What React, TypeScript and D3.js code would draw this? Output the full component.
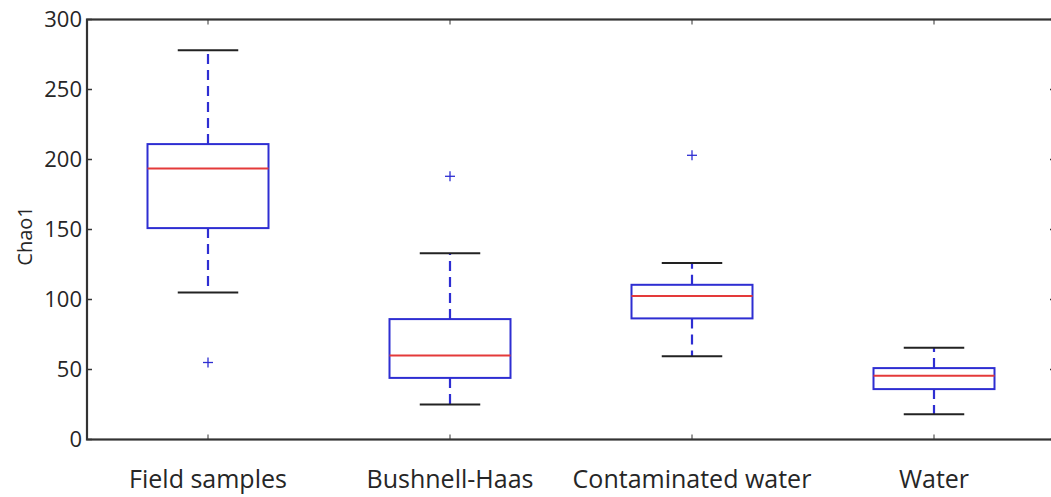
import React from "react";
import * as d3 from "d3";

const categories = ["Field samples", "Bushnell-Haas", "Contaminated water", "Water"];
const whiskerLow = [105, 25, 59.5, 18];
const q1 = [151, 44, 86.5, 36];
const medians = [193.5, 60, 102.5, 45.5];
const q3 = [211, 86, 110.5, 51];
const whiskerHigh = [278, 133, 126, 65.5];
const outliers: number[][] = [[55], [188], [203], []];
const yTicks = [0, 50, 100, 150, 200, 250, 300];

const W = 1051;
const H = 497;
const left = 87;
const right = 1055;
const top = 19.5;
const bottom = 439.5;

export default function App() {
  const x = d3.scaleBand<string>().domain(categories).range([left, right]).padding(0);
  const y = d3.scaleLinear().domain([0, 300]).range([bottom, top]);
  const bw = x.bandwidth();
  const boxW = bw * 0.5;
  const capW = bw * 0.25;
  const blue = "#2e2ed2";
  const red = "#e43a3a";
  const font = "'Open Sans', sans-serif";
  const textCol = "#262626";

  return (
    <svg width={W} height={H} style={{ position: "absolute", left: 0, top: 0, background: "#fff" }}>
      <rect x={0} y={0} width={W} height={H} fill="#fff" />
      {categories.map((c, i) => {
        const cx = (x(c) as number) + bw / 2;
        return (
          <g key={c}>
            <line x1={cx} x2={cx} y1={y(q3[i])} y2={y(whiskerHigh[i])} stroke={blue} strokeWidth={2.2} strokeDasharray="10,6" />
            <line x1={cx} x2={cx} y1={y(q1[i])} y2={y(whiskerLow[i])} stroke={blue} strokeWidth={2.2} strokeDasharray="10,6" />
            <line x1={cx - capW / 2} x2={cx + capW / 2} y1={y(whiskerHigh[i])} y2={y(whiskerHigh[i])} stroke="#222" strokeWidth={2} />
            <line x1={cx - capW / 2} x2={cx + capW / 2} y1={y(whiskerLow[i])} y2={y(whiskerLow[i])} stroke="#222" strokeWidth={2} />
            <rect x={cx - boxW / 2} y={y(q3[i])} width={boxW} height={y(q1[i]) - y(q3[i])} fill="none" stroke={blue} strokeWidth={2} />
            <line x1={cx - boxW / 2} x2={cx + boxW / 2} y1={y(medians[i])} y2={y(medians[i])} stroke={red} strokeWidth={2} />
            {outliers[i].map((o, j) => (
              <g key={j}>
                <line x1={cx - 5} x2={cx + 5} y1={y(o)} y2={y(o)} stroke={blue} strokeWidth={1.3} />
                <line x1={cx} x2={cx} y1={y(o) - 5} y2={y(o) + 5} stroke={blue} strokeWidth={1.3} />
              </g>
            ))}
            <line x1={cx} x2={cx} y1={bottom} y2={bottom - 5} stroke="#333" strokeWidth={1} />
            <line x1={cx} x2={cx} y1={top} y2={top + 5} stroke="#333" strokeWidth={1} />
            <text x={cx} y={488} textAnchor="middle" fontFamily={font} fontSize={25} fontWeight={500} fill={textCol}>{c}</text>
          </g>
        );
      })}
      {yTicks.map((t) => (
        <g key={t}>
          <line x1={left} x2={left + 5} y1={y(t)} y2={y(t)} stroke="#333" strokeWidth={1.5} />
          <line x1={right} x2={right - 5} y1={y(t)} y2={y(t)} stroke="#333" strokeWidth={1.5} />
          <text x={82} y={y(t)} dy="0.36em" textAnchor="end" fontFamily={font} fontSize={22} fontWeight={500} fill={textCol}>{t}</text>
        </g>
      ))}
      <rect x={left} y={top} width={right - left} height={bottom - top} fill="none" stroke="#333" strokeWidth={2.2} />
      <text transform={`translate(32,236) rotate(-90)`} textAnchor="middle" fontFamily={font} fontSize={20} fontWeight={500} fill={textCol}>Chao1</text>
    </svg>
  );
}
